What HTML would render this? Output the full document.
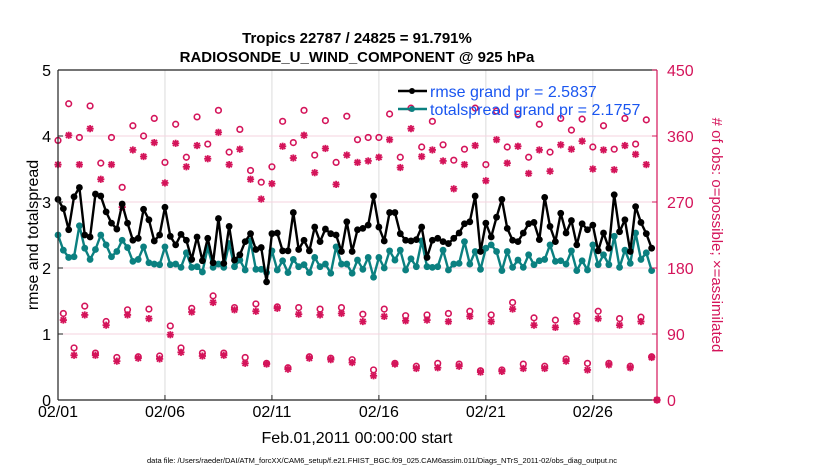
<!DOCTYPE html>
<html><head><meta charset="utf-8">
<style>
html,body{margin:0;padding:0;background:#fff;}
svg{display:block;font-family:"Liberation Sans",sans-serif;}
</style></head>
<body>
<svg id="chart" width="830" height="470" viewBox="0 0 830 470" xmlns="http://www.w3.org/2000/svg">
  <rect x="0" y="0" width="830" height="470" fill="#fff"/>
  <text x="357" y="43" text-anchor="middle" font-size="15" font-weight="bold">Tropics 22787 / 24825 = 91.791%</text>
  <text x="357" y="62" text-anchor="middle" font-size="15" font-weight="bold">RADIOSONDE_U_WIND_COMPONENT @ 925 hPa</text>
  <g id="grid"></g>
  <g id="marks"></g>
  <g id="axes"></g>
  <text transform="translate(38,235) rotate(-90)" text-anchor="middle" font-size="16">rmse and totalspread</text>
  <text transform="translate(712,235) rotate(90)" text-anchor="middle" font-size="15" fill="#d4145a"># of obs: o=possible; ×=assimilated</text>
  <text x="357" y="443" text-anchor="middle" font-size="16">Feb.01,2011 00:00:00 start</text>
  <text x="382" y="463" text-anchor="middle" font-size="7.5">data file: /Users/raeder/DAI/ATM_forcXX/CAM6_setup/f.e21.FHIST_BGC.f09_025.CAM6assim.011/Diags_NTrS_2011-02/obs_diag_output.nc</text>
  <g id="legend">
    <line x1="398" y1="91" x2="427" y2="91" stroke="#000" stroke-width="2.5"/>
    <circle cx="412" cy="91" r="3" fill="#000"/>
    <text x="430" y="97" font-size="16" fill="#1a56f0">rmse grand pr = 2.5837</text>
    <line x1="398" y1="109" x2="427" y2="109" stroke="#0b8080" stroke-width="2.5"/>
    <circle cx="412" cy="109" r="3" fill="#0b8080"/>
    <text x="430" y="115" font-size="16" fill="#1a56f0">totalspread grand pr = 2.1757</text>
  </g>
</svg>
<script>
const rmse = [3.04,2.90,2.58,3.08,3.22,2.50,2.47,3.12,3.09,2.85,2.68,2.59,2.97,2.68,2.42,2.45,2.89,2.73,2.41,2.50,2.92,2.48,2.35,2.51,2.42,2.13,2.47,2.11,2.45,2.08,2.75,2.07,2.63,2.12,2.20,2.40,2.52,2.28,2.31,
1.79,2.52,2.53,2.26,2.26,2.84,2.28,2.42,2.26,2.62,2.40,2.59,2.52,2.50,2.25,2.70,2.25,2.58,2.60,2.65,3.09,2.62,2.41,2.84,2.84,2.52,2.42,2.41,2.43,2.62,2.16,2.42,2.45,2.40,2.37,2.45,2.53,2.67,
2.70,3.09,2.25,2.68,2.47,2.77,3.04,2.60,2.42,2.40,2.53,2.67,2.69,2.43,3.07,2.63,2.40,2.83,2.53,2.72,2.35,2.67,2.58,2.65,2.26,2.53,2.30,3.11,2.55,2.73,2.25,2.93,2.69,2.52,2.30];
const spread = [2.50,2.27,2.16,2.17,2.64,2.30,2.13,2.28,2.50,2.35,2.17,2.25,2.42,2.31,2.10,2.13,2.32,2.08,2.06,2.05,2.32,2.05,2.06,2.01,2.23,2.01,2.02,1.94,2.31,2.01,2.06,2.01,2.37,2.02,2.12,1.97,2.41,1.98,1.98,
1.93,2.26,1.97,2.11,1.93,2.13,2.02,2.05,1.93,2.16,2.02,2.06,1.92,2.32,2.06,2.06,1.92,2.12,1.98,2.16,1.86,2.16,2.00,2.26,2.12,2.27,1.97,2.14,2.02,2.41,2.02,2.01,2.02,2.27,1.97,2.06,2.07,2.40,
2.06,2.25,1.98,2.30,2.35,2.25,1.96,2.25,2.01,2.12,2.01,2.20,2.05,2.11,2.13,2.35,2.10,2.11,2.06,2.26,1.96,2.11,1.97,2.35,2.05,2.20,2.05,2.48,2.01,2.27,2.07,2.53,2.13,2.23,1.96];
// obs counts at 00Z/12Z (every 12h from day 0)
const possHigh = [354,404,358,401,323,358,290,374,360,384,324,376,331,386,349,395,338,369,313,297,318,380,351,395,334,381,324,387,
355,358,358,390,331,398,345,380,348,327,342,398,321,394,345,390,331,376,338,384,368,383,345,374,342,384,349,382,0];
const assimHigh = [321,361,321,370,301,321,263,341,332,351,296,350,318,347,329,365,321,342,301,274,295,346,330,361,310,343,294,334,
324,326,331,355,317,370,332,341,326,288,321,347,299,355,323,346,309,341,312,348,342,353,315,341,314,347,335,321,0];
// obs counts at 06Z (daily)
const possA = [118,128,107,123,124,101,125,142,126,131,127,126,124,126,117,124,115,116,118,121,116,133,112,109,115,121,111,113];
const assimA = [109,116,102,116,111,89,120,133,123,121,125,117,116,118,107,114,108,109,107,114,107,124,102,99,107,111,102,107];
// obs counts at 18Z (daily)
const possB = [71,64,58,59,60,71,64,64,58,50,44,59,57,55,41,50,46,50,49,40,41,49,46,56,50,50,46,59];
const assimB = [61,61,53,57,56,65,60,61,50,49,42,57,55,51,33,49,43,44,46,38,39,43,43,53,41,48,44,58];
const xTickLabels = ["02/01","02/06","02/11","02/16","02/21","02/26"];
const xTickDays = [0,5,10,15,20,25];
const leftTicks = [0,1,2,3,4,5];
const rightTicks = [0,90,180,270,360,450];

const X0=58, X1=657, Y0=400, Y1=70, NDAYS=28;
const NS="http://www.w3.org/2000/svg";
function xs(d){return X0+d*(X1-X0)/NDAYS;}
function yl(v){return Y0-v*(Y0-Y1)/5;}
function yr(v){return Y0-v*(Y0-Y1)/450;}
function mk(tag,attrs,parent){const e=document.createElementNS(NS,tag);for(const k in attrs)e.setAttribute(k,attrs[k]);parent.appendChild(e);return e;}
const grid=document.getElementById('grid'),marks=document.getElementById('marks'),axes=document.getElementById('axes');
const PINK="#d4145a", TEAL="#0b8080";

// grid
xTickDays.forEach((d,i)=>{ if(d===0)return;
  const l=mk('line',{x1:xs(d),y1:Y1,x2:xs(d),y2:Y0,stroke:'#dcdcdc','stroke-width':1},grid);
  
  
});
rightTicks.forEach(v=>{ if(v===0||v===450)return;
  const l=mk('line',{x1:X0,y1:yr(v),x2:X1,y2:yr(v),stroke:'#f6d3df','stroke-width':1},grid);
  
  
});

// obs markers
function circ(x,y,name){const c=mk('circle',{cx:x,cy:y,r:2.8,fill:'none',stroke:PINK,'stroke-width':1.6},marks);
  
  }
function star(x,y,name){const s=3.6;const g=mk('g',{stroke:PINK,'stroke-width':1.8},marks);
  
  
  mk('line',{x1:x-s,y1:y,x2:x+s,y2:y},g);mk('line',{x1:x,y1:y-s,x2:x,y2:y+s},g);
  mk('line',{x1:x-s*0.75,y1:y-s*0.75,x2:x+s*0.75,y2:y+s*0.75},g);mk('line',{x1:x-s*0.75,y1:y+s*0.75,x2:x+s*0.75,y2:y-s*0.75},g);}
possHigh.forEach((v,i)=>circ(xs(i*0.5),yr(v),'obs-possible-point'));
assimHigh.forEach((v,i)=>star(xs(i*0.5),yr(v),'obs-assimilated-point'));
possA.forEach((v,i)=>circ(xs(i+0.25),yr(v),'obs-possible-point'));
assimA.forEach((v,i)=>star(xs(i+0.25),yr(v),'obs-assimilated-point'));
possB.forEach((v,i)=>circ(xs(i+0.75),yr(v),'obs-possible-point'));
assimB.forEach((v,i)=>star(xs(i+0.75),yr(v),'obs-assimilated-point'));

// series lines
function series(vals,color,name){
  const pts=vals.map((v,i)=>xs(i*0.25)+','+yl(v)).join(' ');
  const p=mk('polyline',{points:pts,fill:'none',stroke:color,'stroke-width':2.4,'stroke-linejoin':'round'},marks);
  
  
  vals.forEach((v,i)=>{const c=mk('circle',{cx:xs(i*0.25),cy:yl(v),r:3.4,fill:color},marks);
    
    });
}
series(spread,TEAL,'totalspread');
series(rmse,'#000','rmse');

// axes
const lb=mk('line',{x1:X0,y1:Y1,x2:X0,y2:Y0,stroke:'#222','stroke-width':1.2},axes);


const tb=mk('line',{x1:X0,y1:Y1,x2:X1,y2:Y1,stroke:'#222','stroke-width':1.2},axes);


const bb=mk('line',{x1:X0,y1:Y0,x2:X1,y2:Y0,stroke:'#222','stroke-width':1.2},axes);


const rb=mk('line',{x1:X1,y1:Y1,x2:X1,y2:Y0,stroke:PINK,'stroke-width':1.2},axes);


xTickDays.forEach((d,i)=>{
  mk('line',{x1:xs(d),y1:Y0,x2:xs(d),y2:Y0-5,stroke:'#222','stroke-width':1},axes);
  const t=mk('text',{x:xs(d),y:Y0+17,'text-anchor':'middle','font-size':16},axes);
  t.textContent=xTickLabels[i];
  
  
});
leftTicks.forEach(v=>{
  mk('line',{x1:X0,y1:yl(v),x2:X0+5,y2:yl(v),stroke:'#222','stroke-width':1},axes);
  const t=mk('text',{x:X0-7,y:yl(v)+6,'text-anchor':'end','font-size':16},axes);
  t.textContent=String(v);
  
  
});
rightTicks.forEach(v=>{
  mk('line',{x1:X1,y1:yr(v),x2:X1-5,y2:yr(v),stroke:PINK,'stroke-width':1},axes);
  const t=mk('text',{x:X1+10,y:yr(v)+6,'text-anchor':'start','font-size':16,fill:PINK},axes);
  t.textContent=String(v);
  
  
});
</script>
</body></html>
